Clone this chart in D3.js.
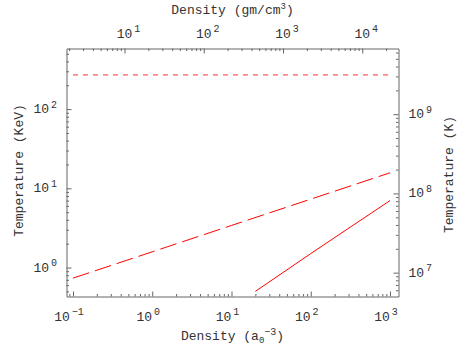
<!DOCTYPE html>
<html>
<head>
<meta charset="utf-8">
<script src="https://cdn.jsdelivr.net/npm/d3@7/dist/d3.min.js"></script>
<style>
  body { margin: 0; background: #fff; }
  text { font-family: "Liberation Mono", "DejaVu Sans Mono", monospace; fill: #333; }
  .axis path, .axis line { stroke: #666; }
</style>
</head>
<body>
<div id="chart"></div>
<script>
// data: density (a0^-3) vs temperature (KeV)
let flatDensity = [0.1, 1000];
let flatTemp = [270, 270];
let dashDensity = [0.1, 1, 10, 100, 1000];
let dashTemp = [0.735, 1.58, 3.4, 7.3, 15.7];
let solidDensity = [20, 100, 1000];
let solidTemp = [0.5, 1.5, 7.0];

let bottomTicks = [-1, 0, 1, 2, 3];
let topTicks = [1, 2, 3, 4];
let leftTicks = [0, 1, 2];
let rightTicks = [7, 8, 9];

let gramsPerA0 = 22.4;      // gm/cm^3 for 1 a0^-3
let kelvinPerKeV = 1.1605e7;

let width = 461, height = 346;
let margin = { top: 48.5, right: 62.5, bottom: 49.5, left: 66.5 };
let w = width - margin.left - margin.right,
  h = height - margin.top - margin.bottom;

let svg = d3.select("#chart").append("svg")
  .attr("width", width).attr("height", height);
let g = svg.append("g").attr("transform", "translate(" + margin.left + "," + margin.top + ")");

let x = d3.scaleLog().domain([0.0828, 1280]).range([0, w]);
let y = d3.scaleLog().domain([0.431, 582]).range([h, 0]);
let xTop = d3.scaleLog().domain(x.domain().map(d => d * gramsPerA0)).range([0, w]);
let yRight = d3.scaleLog().domain(y.domain().map(d => d * kelvinPerKeV)).range([h, 0]);

function minors(scale) {
  let dom = scale.domain(), out = [];
  let lo = Math.floor(Math.log10(dom[0])), hi = Math.ceil(Math.log10(dom[1]));
  for (let e = lo; e <= hi; e++) {
    for (let m = 2; m <= 9; m++) {
      let v = m * Math.pow(10, e);
      if (v >= dom[0] && v <= dom[1]) out.push(v);
    }
  }
  return out;
}

function drawAxis(axisFn, scale, majors, transform) {
  let a = g.append("g").attr("class", "axis").attr("transform", transform);
  a.call(axisFn(scale).tickValues(minors(scale)).tickSizeInner(-2.5).tickSizeOuter(0).tickFormat(""));
  a.append("g").call(axisFn(scale).tickValues(majors.map(e => Math.pow(10, e))).tickSizeInner(-5).tickSizeOuter(0).tickFormat(""))
    .select(".domain").remove();
  a.selectAll("text").remove();
  return a;
}

drawAxis(d3.axisBottom, x, bottomTicks, "translate(0," + h + ")");
drawAxis(d3.axisTop, xTop, topTicks, "translate(0,0)");
drawAxis(d3.axisLeft, y, leftTicks, "translate(0,0)");
drawAxis(d3.axisRight, yRight, rightTicks, "translate(" + w + ",0)");

function powLabel(sel, e) {
  sel.append("tspan").text("10");
  sel.append("tspan").attr("dy", "-0.55em").attr("dx", "2").style("font-size", "10px")
    .text(e < 0 ? "\u2212" + (-e) : e);
}

bottomTicks.forEach(e => {
  g.append("text").attr("x", x(Math.pow(10, e)) - 4).attr("y", h + 24)
    .attr("text-anchor", "middle").style("font-size", "13px").call(powLabel, e);
});
topTicks.forEach(e => {
  g.append("text").attr("x", xTop(Math.pow(10, e)) + 4).attr("y", -11)
    .attr("text-anchor", "middle").style("font-size", "13px").call(powLabel, e);
});
leftTicks.forEach(e => {
  g.append("text").attr("x", -33).attr("y", y(Math.pow(10, e)) + 4)
    .style("font-size", "13px").call(powLabel, e);
});
rightTicks.forEach(e => {
  g.append("text").attr("x", w + 10).attr("y", yRight(Math.pow(10, e)) + 4)
    .style("font-size", "13px").call(powLabel, e);
});

// axis titles
let tb = g.append("text").attr("x", w / 2).attr("y", h + 43).attr("text-anchor", "middle").style("font-size", "13px");
tb.append("tspan").text("Density (a");
tb.append("tspan").attr("dy", "3").style("font-size", "9px").text("0");
tb.append("tspan").attr("dy", "-8").style("font-size", "10px").text("\u22123");
tb.append("tspan").attr("dy", "5").text(")");

let tt = g.append("text").attr("x", w / 2).attr("y", -35).attr("text-anchor", "middle").style("font-size", "13px");
tt.append("tspan").text("Density (gm/cm");
tt.append("tspan").attr("dy", "-5").style("font-size", "9px").text("3");
tt.append("tspan").attr("dy", "5").text(")");

g.append("text").attr("transform", "translate(-44," + (h / 2 - 2) + ") rotate(-90)")
  .attr("text-anchor", "middle").style("font-size", "13px").text("Temperature (KeV)");
g.append("text").attr("transform", "translate(" + (w + 54) + "," + (h / 2 + 2) + ") rotate(-90)")
  .attr("text-anchor", "middle").style("font-size", "13px").text("Temperature (K)");

let line = d3.line().x(d => x(d[0])).y(d => y(d[1]));

g.append("path").datum(d3.zip(flatDensity, flatTemp)).attr("d", line)
  .attr("fill", "none").attr("stroke", "#ff3030").attr("stroke-width", 1).attr("stroke-dasharray", "5,5");
g.append("path").datum(d3.zip(dashDensity, dashTemp)).attr("d", line)
  .attr("fill", "none").attr("stroke", "red").attr("stroke-width", 1).attr("stroke-dasharray", "17,6");
g.append("path").datum(d3.zip(solidDensity, solidTemp)).attr("d", line)
  .attr("fill", "none").attr("stroke", "red").attr("stroke-width", 1);
</script>
</body>
</html>
